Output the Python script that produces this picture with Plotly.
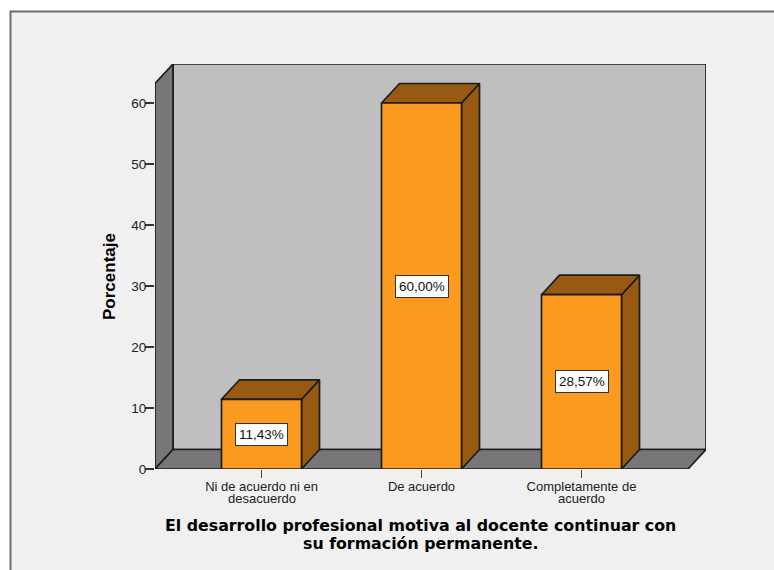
import plotly.graph_objects as go

categories = ["Ni de acuerdo ni en", "De acuerdo", "Completamente de"]
categories_line2 = ["desacuerdo", "", "acuerdo"]
values = [11.43, 60.0, 28.57]
labels = ["11,43%", "60,00%", "28,57%"]
y_ticks = [0, 10, 20, 30, 40, 50, 60]
x_title_lines = ["El desarrollo profesional motiva al docente continuar con",
                 "su formación permanente."]
y_title = "Porcentaje"

# Canvas geometry
W, H = 774, 570
L, R, T, B = 155, 706, 64, 469
PX_PER_CAT = 160.0
PX_PER_UNIT = 6.1
X0_CAT = (261.5 - L) / PX_PER_CAT          # distance from left edge to first category
XMIN = -X0_CAT
XMAX = XMIN + (R - L) / PX_PER_CAT
YMAX = (B - T) / PX_PER_UNIT
DX = 18 / PX_PER_CAT                        # 3-D depth in axis units
DY = 19.5 / PX_PER_UNIT
BAR_W = 0.5
FRONT_RIGHT = XMAX - DX
FRONT_TOP = YMAX - DY

EDGE = "#1c1c1c"
BACK = "#bfbfbf"
WALL = "#777777"
BAR = "#fb9a1e"
BAR_DARK = "#985a12"
BG = "#f0f0f0"
TXT = "#222222"


def poly(xs, ys, fill, width=1.7):
    return go.Scatter(x=xs + xs[:1], y=ys + ys[:1], mode="lines", fill="toself",
                      fillcolor=fill, line=dict(color=EDGE, width=width),
                      hoverinfo="skip", showlegend=False, cliponaxis=False)


fig = go.Figure()
# back wall
fig.add_trace(poly([XMIN + DX, XMAX, XMAX, XMIN + DX], [DY, DY, YMAX, YMAX], BACK))
# left wall
fig.add_trace(poly([XMIN, XMIN + DX, XMIN + DX, XMIN], [0, DY, YMAX, FRONT_TOP], WALL))
# floor
fig.add_trace(poly([XMIN, FRONT_RIGHT, XMAX, XMIN + DX], [0, 0, DY, DY], WALL))

for i, v in enumerate(values):
    x0, x1 = i - BAR_W / 2, i + BAR_W / 2
    fig.add_trace(poly([x1, x1 + DX, x1 + DX, x1], [0, DY, v + DY, v], BAR_DARK))
    fig.add_trace(poly([x0, x1, x1 + DX, x0 + DX], [v, v, v + DY, v + DY], BAR_DARK))
    fig.add_trace(poly([x0, x1, x1, x0], [0, 0, v, v], BAR))

annotations = []
for i, v in enumerate(values):
    annotations.append(dict(x=i, y=v / 2, xref="x", yref="y", text=labels[i], showarrow=False,
                            font=dict(family="Liberation Sans", size=13.5, color="#111111"),
                            bgcolor="white", bordercolor="#333333", borderwidth=1, borderpad=3))
    if categories_line2[i]:
        annotations.append(dict(x=i, y=0, xref="x", yref="y", yshift=-29,
                                text=categories_line2[i], showarrow=False,
                                font=dict(family="Liberation Sans", size=13, color=TXT)))

for line, shift in zip(x_title_lines, (-56, -74)):
    annotations.append(dict(x=(420.5 - L) / (R - L), y=0, xref="paper", yref="y", yshift=shift,
                            text=f"<b>{line}</b>", showarrow=False,
                            font=dict(family="DejaVu Sans", size=15.8, color="#000000")))

annotations.append(dict(x=(109 - L) / (R - L), xref="paper", xanchor="center",
                        y=(B - 277) / (B - T), yref="paper", yanchor="middle",
                        text=f"<b>{y_title}</b>", showarrow=False, textangle=-90,
                        font=dict(family="Liberation Sans", size=17, color="#000000")))

fig.update_layout(
    width=W, height=H, autosize=False,
    margin=dict(l=L, r=W - R, t=T, b=H - B, pad=0),
    paper_bgcolor="white", plot_bgcolor="rgba(0,0,0,0)", showlegend=False,
    annotations=annotations,
    shapes=[dict(type="rect", xref="paper", yref="paper", layer="below",
                 x0=(10.5 - L) / (R - L), x1=(W + 20 - L) / (R - L),
                 y0=(B - H - 20) / (B - T), y1=(B - 11.5) / (B - T),
                 fillcolor=BG, line=dict(color="#6e6e6e", width=2))],
    xaxis=dict(range=[XMIN, XMAX], tickmode="array", tickvals=[0, 1, 2], ticktext=categories,
               ticks="outside", ticklen=8, tickwidth=1, tickcolor="#444444", showgrid=False,
               zeroline=False, showline=False, ticklabelstandoff=-3,
               tickfont=dict(family="Liberation Sans", size=13, color=TXT)),
    yaxis=dict(range=[0, YMAX], tickmode="array", tickvals=y_ticks, ticks="outside", ticklen=9,
               tickwidth=1.5, tickcolor="#333333", showgrid=False, zeroline=False, showline=False,
               ticklabelstandoff=-4, tickfont=dict(family="Liberation Sans", size=13.5, color=TXT)),
)

fig.write_html("out.html", config={"displayModeBar": False},
               post_script="document.body.style.margin='0';document.documentElement.style.overflow='hidden';")
